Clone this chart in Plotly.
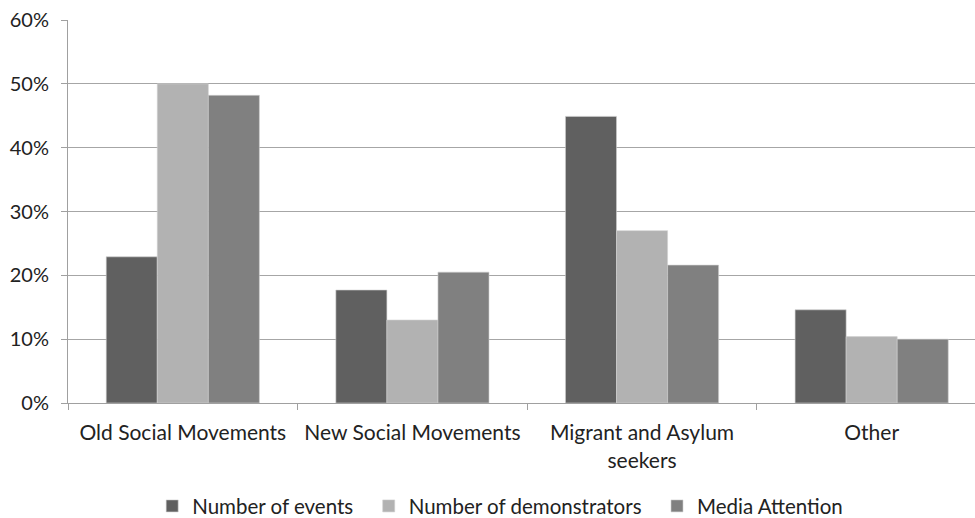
import plotly.graph_objects as go

categories = ["Old Social Movements", "New Social Movements", "Migrant and Asylum<br>seekers", "Other"]
series_names = ["Number of events", "Number of demonstrators", "Media Attention"]
events = [0.229, 0.177, 0.449, 0.146]
demonstrators = [0.500, 0.130, 0.270, 0.104]
media = [0.482, 0.205, 0.216, 0.100]
colors = ["#606060", "#b2b2b2", "#808080"]

pad = ["\u00a0\u00a0", "\u00a0\u00a0", ""]

fig = go.Figure()
for name, vals, c, p in zip(series_names, [events, demonstrators, media], colors, pad):
    fig.add_trace(go.Bar(x=categories, y=vals, name=name + p, marker_color=c,
                         marker_line_color="#d0d0d0", marker_line_width=0.6))

font = "Lato"
fig.update_layout(
    width=975, height=518,
    margin=dict(l=68, r=0, t=20, b=115),
    plot_bgcolor="white", paper_bgcolor="white",
    barmode="group", bargap=0.333, bargroupgap=0,
    font=dict(family=font, size=20, color="#222222"),
    legend=dict(orientation="h", xref="container", yref="container",
                x=0.513, xanchor="center", y=0.023, yanchor="middle",
                font=dict(size=20.5), itemwidth=30, traceorder="normal"),
    showlegend=True,
)
fig.update_xaxes(range=[-0.5, 3.45], showline=True, linecolor="#a0a0a0", linewidth=1,
                 ticks="outside", tickson="boundaries", ticklen=6, tickcolor="#a0a0a0",
                 showgrid=False, tickfont=dict(size=21), ticklabelstandoff=11,
                 automargin=False)
fig.update_yaxes(range=[0, 0.6], dtick=0.1, tickformat=".0%", showgrid=True,
                 gridcolor="#a6a6a6", gridwidth=1, showline=True, linecolor="#a0a0a0",
                 ticks="outside", ticklen=6, tickcolor="#a0a0a0", zeroline=False,
                 tickfont=dict(size=20), ticklabelstandoff=8, automargin=False)

fig.write_html("out.html")
